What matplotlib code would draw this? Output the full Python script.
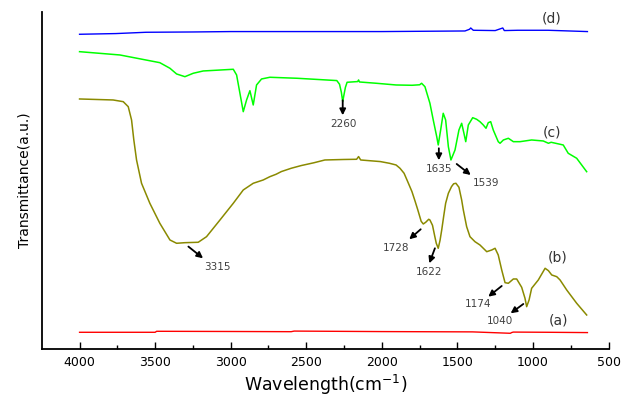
import matplotlib
matplotlib.use("Agg")
import matplotlib.pyplot as plt
from matplotlib.ticker import MultipleLocator

# FTIR spectra: wavenumber (cm-1) and offset transmittance (a.u.)
wn_a = [4000, 3500, 3490, 3000, 2600, 2580, 2000, 1600, 1400, 1150, 1140, 1130, 900, 640]
tr_a = [17.0, 17.0, 18.0, 17.8, 17.6, 18.2, 17.7, 17.5, 17.4, 16.0, 16.8, 17.2, 17.0, 16.7]

wn_b = [4000, 3778, 3711, 3678, 3656, 3641, 3623, 3590, 3535, 3469, 3402, 3358,
        3303, 3215, 3160, 3071, 2983, 2917, 2851, 2785, 2741, 2700, 2665, 2600,
        2534, 2450, 2377, 2250, 2167, 2154, 2140, 2010, 1950, 1906, 1880, 1853,
        1830, 1801, 1780, 1762, 1740, 1726, 1710, 1690, 1682, 1665, 1650, 1640,
        1627, 1615, 1604, 1590, 1578, 1560, 1539, 1525, 1510, 1490, 1472, 1461,
        1439, 1417, 1384, 1351, 1306, 1273, 1251, 1230, 1207, 1185, 1163, 1130,
        1108, 1075, 1053, 1042, 1026, 1009, 965, 920, 898, 876, 843, 821, 777,
        711, 645]
tr_b = [250.3, 249.3, 247.6, 242.6, 229.3, 209.3, 189.3, 166.0, 146.0, 126.0,
        109.3, 106.0, 106.6, 107.0, 112.6, 129.3, 146.0, 159.3, 166.0, 169.3,
        172.6, 175.0, 177.7, 181.0, 183.7, 186.5, 189.3, 189.8, 190.0, 192.7,
        189.3, 187.7, 186.0, 184.3, 181.0, 176.0, 168.0, 157.7, 148.0, 139.3,
        128.0, 125.3, 127.0, 130.0, 129.3, 124.0, 113.0, 106.0, 101.0, 109.0,
        119.3, 134.0, 146.0, 156.0, 162.7, 165.5, 166.0, 162.0, 149.3, 139.3,
        122.6, 112.6, 107.6, 104.3, 97.6, 99.3, 101.0, 94.3, 79.3, 66.6, 66.0,
        70.3, 70.3, 62.0, 51.0, 42.6, 49.3, 61.0, 69.3, 81.0, 78.6, 74.3, 72.6,
        69.3, 59.3, 46.0, 34.3]

wn_c = [4000, 3733, 3469, 3402, 3358, 3303, 3248, 3182, 2983, 2961, 2939, 2917,
        2895, 2873, 2851, 2829, 2796, 2741, 2560, 2298, 2280, 2268, 2259, 2250,
        2241, 2230, 2160, 2154, 2148, 2036, 1906, 1800, 1750, 1737, 1715, 1682,
        1660, 1637, 1627, 1611, 1594, 1578, 1560, 1543, 1516, 1490, 1472, 1457,
        1445, 1428, 1399, 1373, 1351, 1329, 1311, 1296, 1280, 1263, 1230, 1218,
        1196, 1163, 1130, 1086, 1009, 932, 898, 880, 800, 767, 711, 645]
tr_c = [297.6, 294.3, 286.6, 281.0, 275.3, 272.6, 276.0, 278.3, 280.0, 274.3,
        256.0, 237.6, 249.3, 258.6, 244.3, 264.3, 270.3, 272.0, 271.0, 268.7,
        265.0, 257.0, 247.7, 255.0, 262.0, 267.0, 267.7, 269.3, 267.3, 266.0,
        264.3, 264.0, 264.5, 266.0, 262.6, 246.0, 229.3, 212.6, 204.3, 219.3,
        236.0, 229.3, 202.6, 189.3, 199.3, 219.3, 226.0, 216.0, 207.6, 224.3,
        231.6, 230.0, 227.6, 224.3, 221.0, 226.6, 227.6, 219.3, 207.6, 206.0,
        209.3, 211.0, 207.6, 207.6, 209.3, 208.3, 206.0, 207.0, 204.3, 196.0,
        191.0, 177.6]

wn_d = [4000, 3760, 3560, 3250, 3000, 2000, 1450, 1420, 1412, 1395, 1250, 1200,
        1190, 1100, 900, 640]
tr_d = [315.0, 315.7, 317.0, 317.3, 317.7, 317.7, 318.3, 320.0, 321.3, 319.0,
        318.7, 321.3, 318.7, 319.0, 319.0, 317.7]

# curve labels: (text, wavenumber, transmittance)
curve_labels = [("(a)", 832, 28.7), ("(b)", 837, 92.0),
                ("(c)", 874, 216.5), ("(d)", 879, 331.0)]

# peak labels: (text, text_wn, text_tr, arrow_tail_wn, tail_tr, head_wn, head_tr)
peaks = [
    ("2260", 2254, 225.7, 2259, 249.0, 2259, 234.0),
    ("1635", 1619, 180.0, 1623, 201.0, 1623, 189.0),
    ("1539", 1311, 166.7, 1505, 185.3, 1412, 174.3),
    ("3315", 3089, 82.7, 3280, 102.7, 3183, 91.0),
    ("1728", 1904, 101.0, 1743, 120.0, 1819, 110.0),
    ("1622", 1687, 77.0, 1649, 101.0, 1686, 86.0),
    ("1174", 1363, 45.0, 1207, 63.3, 1296, 52.6),
    ("1040", 1219, 28.6, 1064, 45.3, 1148, 36.0),
]

fig = plt.figure(figsize=(6.21, 3.99), dpi=100)
ax = fig.add_axes([0.068, 0.1246, 0.912, 0.8454])

ax.plot(wn_a, tr_a, color="#ff0000", lw=1.0)
ax.plot(wn_b, tr_b, color="#8a8a00", lw=1.1)
ax.plot(wn_c, tr_c, color="#00ff00", lw=1.1)
ax.plot(wn_d, tr_d, color="#0000ff", lw=1.0)

for txt, x, y in curve_labels:
    ax.text(x, y, txt, fontsize=10, color="#333333", ha="center", va="center")

for txt, tx, ty, x0, y0, x1, y1 in peaks:
    ax.text(tx, ty, txt, fontsize=7.5, color="#404040", ha="center", va="center")
    ax.annotate("", xy=(x1, y1), xytext=(x0, y0),
                arrowprops=dict(arrowstyle="-|>", color="black", lw=1.3,
                                mutation_scale=9, shrinkA=0, shrinkB=0))

ax.set_xlim(4247, 500)
ax.set_ylim(0, 337.3)
ax.xaxis.set_major_locator(MultipleLocator(500))
ax.xaxis.set_minor_locator(MultipleLocator(250))
ax.tick_params(axis="x", which="major", direction="in", length=5, width=1.0,
               labelsize=9, pad=5)
ax.tick_params(axis="x", which="minor", direction="in", length=3, width=1.0)
ax.set_yticks([])
for s in ("top", "right"):
    ax.spines[s].set_visible(False)
for s in ("left", "bottom"):
    ax.spines[s].set_linewidth(1.3)

ax.set_xlabel("Wavelength(cm$^{-1}$)", fontsize=12.5, labelpad=3)
ax.set_ylabel("Transmittance(a.u.)", fontsize=10, labelpad=8)

fig.savefig("out.png", dpi=100)
